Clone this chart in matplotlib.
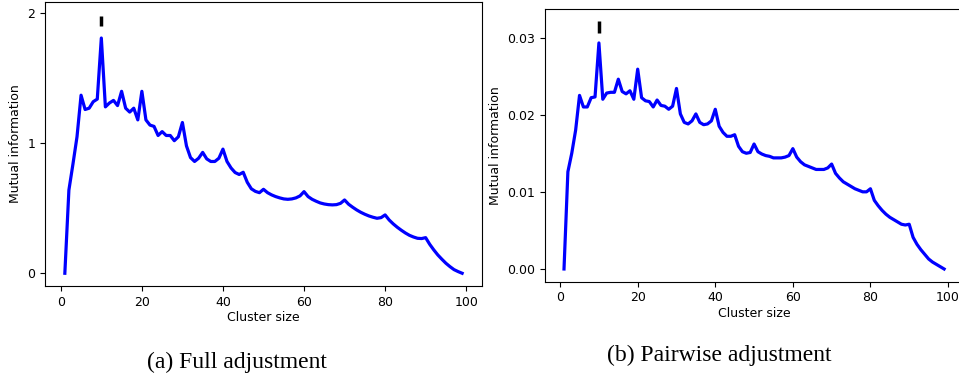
import numpy as np
import matplotlib.pyplot as plt

# cluster sizes 1..99
cluster_size = list(range(1, 100))

# (a) full adjustment
mi_full = [0.0, 0.64, 0.84, 1.05, 1.37, 1.26, 1.27, 1.32, 1.34, 1.81,
           1.28, 1.31, 1.33, 1.29, 1.40, 1.27, 1.24, 1.27, 1.18, 1.40,
           1.18, 1.14, 1.13, 1.06, 1.09, 1.06, 1.06, 1.02, 1.05, 1.16,
           0.98, 0.89, 0.86, 0.885, 0.93, 0.88, 0.86, 0.86, 0.885, 0.955,
           0.86, 0.81, 0.775, 0.76, 0.777, 0.70, 0.65, 0.63, 0.62, 0.646,
           0.62, 0.603, 0.59, 0.58, 0.572, 0.569, 0.572, 0.58, 0.595, 0.628,
           0.59, 0.569, 0.554, 0.541, 0.533, 0.528, 0.526, 0.528, 0.538, 0.564,
           0.531, 0.508, 0.487, 0.469, 0.454, 0.441, 0.431, 0.423, 0.428, 0.449,
           0.41, 0.38, 0.354, 0.331, 0.31, 0.292, 0.279, 0.269, 0.267, 0.274,
           0.223, 0.18, 0.141, 0.108, 0.077, 0.051, 0.028, 0.013, 0.0]

# (b) pairwise adjustment
mi_pair = [0.0, 0.0126, 0.015, 0.018, 0.0225, 0.021, 0.021, 0.0222, 0.0223, 0.0293,
           0.022, 0.0228, 0.0229, 0.0229, 0.0246, 0.023, 0.0227, 0.0231, 0.022, 0.0259,
           0.0222, 0.0218, 0.0217, 0.021, 0.0219, 0.0212, 0.0211, 0.0207, 0.0211, 0.0234,
           0.0201, 0.019, 0.0188, 0.0192, 0.0201, 0.019, 0.0187, 0.0188, 0.0192, 0.0207,
           0.0185, 0.0177, 0.0172, 0.0172, 0.0174, 0.0159, 0.0152, 0.015, 0.0151, 0.0162,
           0.0152, 0.0149, 0.0147, 0.0146, 0.0144, 0.0144, 0.0144, 0.0145, 0.0147, 0.0156,
           0.0145, 0.0139, 0.0135, 0.0133, 0.0131, 0.0129, 0.0129, 0.0129, 0.0131, 0.0136,
           0.0124, 0.0118, 0.0113, 0.011, 0.0107, 0.0104, 0.0102, 0.0100, 0.0100, 0.0104,
           0.0089, 0.0082, 0.0076, 0.0071, 0.0067, 0.0064, 0.0061, 0.0058, 0.0057, 0.0058,
           0.0041, 0.0032, 0.0025, 0.0019, 0.0013, 0.0009, 0.0006, 0.0003, 0.0]

# error bar marks at the best cluster size
best_size = 10
err_full = (1.94, 0.04)
err_pair = (0.03135, 0.0008)

fig = plt.figure(figsize=(9.59, 3.79), dpi=100)

ax1 = fig.add_axes([0.0469, 0.2454, 0.4557, 0.7493])
ax1.plot(cluster_size, mi_full, color="blue", lw=2.3)
ax1.errorbar([best_size], [err_full[0]], yerr=[err_full[1]], fmt="none",
             ecolor="black", elinewidth=2.5)
ax1.set_xlim(-3.9, 103.9)
ax1.set_ylim(-0.098, 2.087)
ax1.set_xticks([0, 20, 40, 60, 80, 100])
ax1.set_yticks([0, 1, 2])
ax1.set_xlabel("Cluster size", fontsize=9, labelpad=2)
ax1.set_ylabel("Mutual information", fontsize=9)
ax1.tick_params(labelsize=9)

ax2 = fig.add_axes([0.5683, 0.2567, 0.436, 0.7196])
ax2.plot(cluster_size, mi_pair, color="blue", lw=2.3)
ax2.errorbar([best_size], [err_pair[0]], yerr=[err_pair[1]], fmt="none",
             ecolor="black", elinewidth=2.5)
ax2.set_xlim(-3.9, 103.9)
ax2.set_ylim(-0.00165, 0.0337)
ax2.set_xticks([0, 20, 40, 60, 80, 100])
ax2.set_yticks([0.0, 0.01, 0.02, 0.03])
ax2.set_yticklabels(["0.00", "0.01", "0.02", "0.03"])
ax2.set_xlabel("Cluster size", fontsize=9, labelpad=2)
ax2.set_ylabel("Mutual information", fontsize=9)
ax2.tick_params(labelsize=9)

fig.text(0.247, 0.045, "(a) Full adjustment", ha="center", va="center",
         family="Liberation Serif", fontsize=17)
fig.text(0.75, 0.061, "(b) Pairwise adjustment", ha="center", va="center",
         family="Liberation Serif", fontsize=17)

fig.savefig("out.png", dpi=100)
